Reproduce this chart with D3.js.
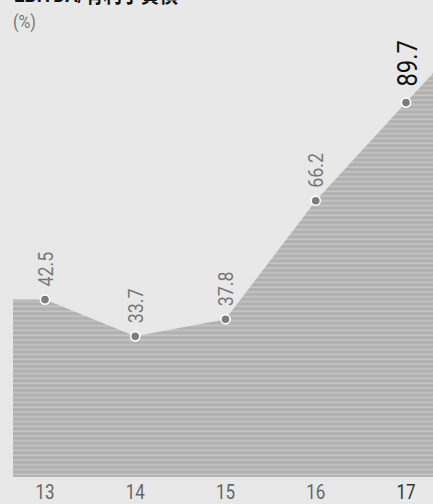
<!DOCTYPE html>
<html>
<head>
<meta charset="utf-8">
<script src="https://cdn.jsdelivr.net/npm/d3@7"></script>
<style>
html,body{margin:0;padding:0;background:#e8e8e8;}
svg{display:block;}
</style>
</head>
<body>
<script>
const years = ["13","14","15","16","17"];
const values = [42.5, 33.7, 37.8, 66.2, 89.7];
const titleText = "EBITDA/有利子負債";
const unitText = "(%)";

const W = 433, H = 504;
const font = "Roboto,'Noto Sans CJK JP',sans-serif";
const SX = 0.85;
const svg = d3.select("body").append("svg").attr("width", W).attr("height", H);
svg.append("rect").attr("width", W).attr("height", H).attr("fill", "#e8e8e8");

const defs = svg.append("defs");
const pat = defs.append("pattern").attr("id","stripes").attr("patternUnits","userSpaceOnUse")
  .attr("width", 10).attr("height", 4.8);
pat.append("rect").attr("width",10).attr("height",4.8).attr("fill","#b1b1b1");
pat.append("rect").attr("y",3.3).attr("width",10).attr("height",1.5).attr("fill","#c6c6c6");
defs.append("clipPath").attr("id","clip").append("rect").attr("x",13).attr("y",0).attr("width",W-13).attr("height",H);

const x = d3.scaleLinear().domain([0, years.length-1]).range([45, 406]);
const y = d3.scaleLinear().domain([0, 100]).range([477, 59.6]);

const n = values.length;
const leftIdx = x.invert(13);
const rightIdx = x.invert(W);
const slope = values[n-1] - values[n-2];
const areaData = [{i:leftIdx, v:values[0]}]
  .concat(values.map((v,i)=>({i, v})))
  .concat([{i:rightIdx, v: values[n-1] + slope*(rightIdx-(n-1))}]);

const area = d3.area().x(d=>x(d.i)).y0(y(0)).y1(d=>y(d.v));
svg.append("path").datum(areaData).attr("d", area)
  .attr("fill","url(#stripes)").attr("clip-path","url(#clip)");

svg.selectAll("circle.pt").data(values).join("circle")
  .attr("class","pt")
  .attr("cx",(d,i)=>x(i)).attr("cy",d=>y(d)).attr("r",4.6)
  .attr("fill","#7c7c7c").attr("stroke","#fff").attr("stroke-width",1.6);

svg.selectAll("text.val").data(values).join("text")
  .attr("class","val")
  .attr("transform",(d,i)=>{
    const last = i===n-1;
    return `translate(${x(i)+(last?10.5:7.5)},${y(d)-(last?16:13)}) rotate(-90) scale(${SX},1)`;
  })
  .attr("font-family", font)
  .attr("font-size",(d,i)=>i===n-1?28:21)
  .attr("fill",(d,i)=>i===n-1?"#111":"#777")
  .text(d=>d.toFixed(1));

svg.selectAll("text.yr").data(years).join("text")
  .attr("class","yr")
  .attr("transform",(d,i)=>`translate(${x(i)},499) scale(${SX},1)`)
  .attr("text-anchor","middle")
  .attr("font-family", font).attr("font-size",20)
  .attr("fill",(d,i)=>i===n-1?"#333":"#666")
  .text(d=>d);

svg.append("text").attr("transform",`translate(13,28) scale(${SX},1)`)
  .attr("font-family", font).attr("font-size",19).attr("fill","#777").text(unitText);
svg.append("text").attr("transform",`translate(14,2) scale(${SX},1)`)
  .attr("font-family", font).attr("font-size",22).attr("font-weight","bold").attr("fill","#111").text(titleText);
</script>
</body>
</html>
